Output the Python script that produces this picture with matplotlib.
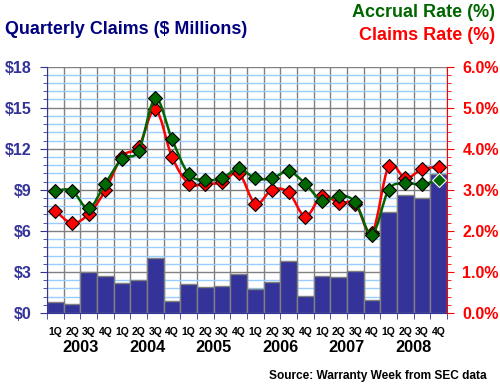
import numpy as np
import matplotlib.pyplot as plt
from matplotlib.path import Path
from matplotlib.patches import PathPatch
from matplotlib.ticker import MultipleLocator, FuncFormatter
from matplotlib.transforms import blended_transform_factory

plt.rcParams['font.family'] = ['Liberation Sans', 'DejaVu Sans']
plt.rcParams['font.weight'] = 'bold'

quarters = ['1Q', '2Q', '3Q', '4Q'] * 6
years = ['2003', '2004', '2005', '2006', '2007', '2008']

# quarterly claims, $ millions
claims = [0.78, 0.63, 2.97, 2.68, 2.19, 2.38, 4.01, 0.88,
          2.12, 1.90, 1.97, 2.85, 1.77, 2.26, 3.82, 1.24,
          2.70, 2.63, 3.09, 0.95, 7.37, 8.64, 8.39, 10.19]

# accrual rate, %
accrual = [2.98, 2.98, 2.55, 3.15, 3.76, 3.95, 5.23, 4.23,
           3.38, 3.24, 3.28, 3.52, 3.28, 3.28, 3.45, 3.15,
           2.73, 2.86, 2.70, 1.91, 3.00, 3.16, 3.13, 3.25]

# claims rate, %
claims_rate = [2.49, 2.19, 2.41, 2.99, 3.81, 4.05, 4.96, 3.80,
               3.15, 3.15, 3.18, 3.41, 2.66, 3.00, 2.94, 2.35,
               2.86, 2.68, 2.66, 1.95, 3.57, 3.28, 3.50, 3.56]

BLUE = '#333399'
NAVY = '#000080'
GREEN = '#006600'
RED = '#ff0000'


def smooth_path(x, y):
    # catmull-rom style bezier through the points
    pts = np.column_stack([x, y]).astype(float)
    verts = [pts[0]]
    codes = [Path.MOVETO]
    n = len(pts)
    for i in range(n - 1):
        p0 = pts[max(i - 1, 0)]
        p1 = pts[i]
        p2 = pts[i + 1]
        p3 = pts[min(i + 2, n - 1)]
        c1 = p1 + (p2 - p0) / 6.0
        c2 = p2 - (p3 - p1) / 6.0
        verts += [c1, c2, p2]
        codes += [Path.CURVE4] * 3
    return Path(verts, codes)


fig = plt.figure(figsize=(5, 3.87), dpi=100)
ax = fig.add_axes([0.094, 0.191, 0.800, 0.637])
ax2 = ax.twinx()

x = np.arange(len(claims)) + 0.5

ax.bar(x, claims, width=1.0, color=BLUE, edgecolor='#808080', linewidth=1, zorder=2)
ax.set_xlim(0, 24)
ax.set_ylim(0, 18)
ax.set_axisbelow(True)
ax.yaxis.set_major_locator(MultipleLocator(3))
ax.yaxis.set_minor_locator(MultipleLocator(0.6))
ax.yaxis.set_major_formatter(FuncFormatter(lambda v, p: '$%d' % v))
ax.grid(which='minor', axis='y', color='#99ccff', linewidth=1)
ax.grid(which='major', axis='y', color='#808080', linewidth=1)

# quarter boundaries as ticks + vertical grid, labels centred
ax.set_xticks(np.arange(0, 25), minor=True)
ax.set_xticks(x)
ax.set_xticklabels(quarters, fontsize=7.5, fontweight='bold')
ax.tick_params(axis='x', which='major', length=0, pad=10)
ax.tick_params(axis='x', which='minor', length=4, color=BLUE, direction='out')
ax.grid(which='minor', axis='x', color='#808080', linewidth=1)

ax.tick_params(axis='y', which='major', colors=BLUE, length=5, labelsize=11.5, pad=6)
ax.tick_params(axis='y', which='minor', colors=BLUE, length=3)
for lab in ax.get_yticklabels():
    lab.set_fontweight('bold')

for s in ['top', 'right']:
    ax.spines[s].set_visible(False)
ax.spines['left'].set_color(BLUE)
ax.spines['bottom'].set_color(BLUE)

ax2.set_ylim(0, 6)
ax2.yaxis.set_major_locator(MultipleLocator(1))
ax2.yaxis.set_minor_locator(MultipleLocator(0.2))
ax2.yaxis.set_major_formatter(FuncFormatter(lambda v, p: '%.1f%%' % v))
ax2.tick_params(axis='y', which='major', colors=RED, length=5, labelsize=11.5, pad=6)
ax2.tick_params(axis='y', which='minor', colors=RED, length=3)
for lab in ax2.get_yticklabels():
    lab.set_fontweight('bold')
for s in ['top', 'left', 'bottom']:
    ax2.spines[s].set_visible(False)
ax2.spines['right'].set_color(RED)

# rate lines
ax2.add_patch(PathPatch(smooth_path(x, claims_rate), facecolor='none', edgecolor=RED, linewidth=1.8, zorder=3))
ax2.plot(x, claims_rate, linestyle='none', marker='D', markersize=7.3,
         markerfacecolor=RED, markeredgecolor='black', markeredgewidth=0.8, zorder=4)
ax2.add_patch(PathPatch(smooth_path(x, accrual), facecolor='none', edgecolor=GREEN, linewidth=1.8, zorder=5))
ax2.plot(x[:-1], accrual[:-1], linestyle='none', marker='D', markersize=7.3,
         markerfacecolor=GREEN, markeredgecolor='black', markeredgewidth=0.8, zorder=6)
ax2.plot(x[-1:], accrual[-1:], linestyle='none', marker='D', markersize=7.3,
         markerfacecolor=GREEN, markeredgecolor='white', markeredgewidth=0.8, zorder=6)

# year labels under the quarter labels
tr = blended_transform_factory(ax.transData, fig.transFigure)
for i, yr in enumerate(years):
    ax.text(i * 4 + 2, 1 - 347 / 387, yr, transform=tr, ha='center', va='center',
            fontsize=11.8, fontweight='bold', color='black')

fig.text(5 / 500, 1 - 30 / 387, 'Quarterly Claims ($ Millions)', ha='left', va='center',
         fontsize=12.9, fontweight='bold', color=NAVY)
fig.text(495 / 500, 1 - 12.5 / 387, 'Accrual Rate (%)', ha='right', va='center',
         fontsize=13, fontweight='bold', color=GREEN)
fig.text(495 / 500, 1 - 35 / 387, 'Claims Rate (%)', ha='right', va='center',
         fontsize=13, fontweight='bold', color=RED)
fig.text(487 / 500, 1 - 376 / 387, 'Source: Warranty Week from SEC data', ha='right', va='center',
         fontsize=8.6, fontweight='bold', color='black')

fig.savefig('out.png', dpi=100)
